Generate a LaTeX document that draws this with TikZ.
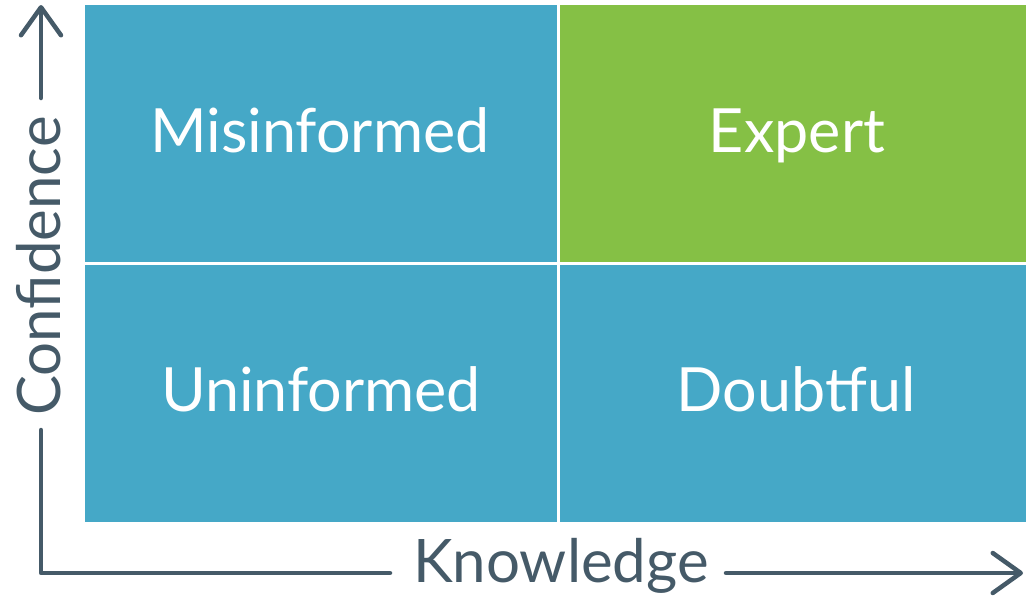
\documentclass[tikz,border=0pt]{standalone}
\usepackage{fontspec}
\setmainfont{Lato}
\usetikzlibrary{arrows.meta}
\definecolor{cellblue}{HTML}{45A8C7}
\definecolor{cellgreen}{HTML}{85C045}
\definecolor{axisgray}{HTML}{455A68}
\tikzset{
  cell/.style={draw=none},
  celltext/.style={text=white, font=\fontsize{61}{67}\selectfont, anchor=base, inner sep=0pt},
  axistext/.style={text=axisgray, inner sep=0pt},
  axisline/.style={draw=axisgray, line width=4.5pt, line cap=round, line join=round},
  axisarrow/.style={axisline, -{Straight Barb[length=28pt 0 0, width=40pt 0, line cap=round, line join=round]}}
}
\begin{document}
\begin{tikzpicture}[x=1pt,y=-1pt]
\useasboundingbox (0,0) rectangle (1026,606);
\fill[cellblue]  (85,5) rectangle (557,262);
\fill[cellgreen] (560,5) rectangle (1026,262);
\fill[cellblue]  (85,265) rectangle (557,522);
\fill[cellblue]  (560,265) rectangle (1026,522);
\node[celltext] (mis) at (320,152) {Misinformed};
\node[celltext] (exp) at (797,152) {Expert};
\node[celltext] (uni) at (321,411) {Uninformed};
\node[celltext] (dou) at (796,411) {Doubtful};
% axes
\coordinate (corner) at (41,573);
\coordinate (ytip) at (41,5);
\coordinate (xtip) at (1023,573);
\node[axistext, rotate=90, anchor=base, font=\fontsize{60}{66}\selectfont] (ylab) at (60,266) {Confidence};
\node[axistext, anchor=base, font=\fontsize{60}{66}\selectfont] (xlab) at (561,582) {Knowledge};
\draw[axisline] (41,430) -- (corner) -- (390,573);
\draw[axisarrow] (41,98) -- (ytip);
\draw[axisarrow] (726,573) -- (xtip);
\end{tikzpicture}
\end{document}
